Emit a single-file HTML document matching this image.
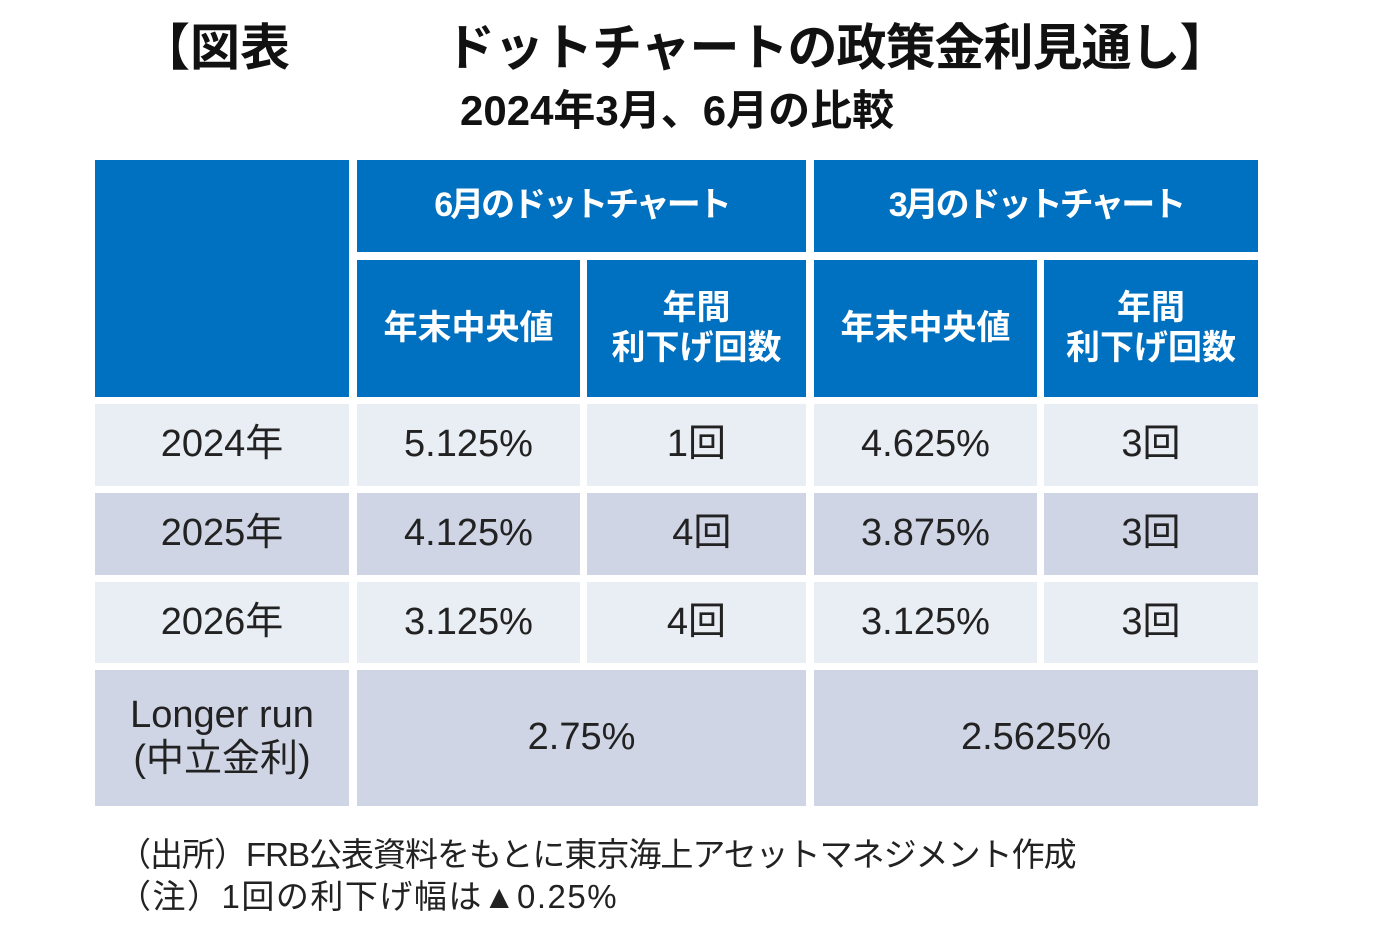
<!DOCTYPE html>
<html><head><meta charset="utf-8"><style>
body{margin:0;width:1396px;height:941px;background:#fff;position:relative;overflow:hidden;font-family:"Liberation Sans","Noto Sans CJK JP",sans-serif;}
.c{position:absolute;display:flex;align-items:center;justify-content:center;text-align:center;color:#222;font-size:38px;line-height:1.15;}
.h{background:#0070c0;color:#fff;font-weight:bold;font-size:34px;}
.k{letter-spacing:-3px;}
.l{background:#e9edf4}.d{background:#cfd5e5}
.t{position:absolute;font-weight:bold;color:#111;white-space:nowrap;}
.n{position:absolute;font-size:33px;color:#222;white-space:nowrap;}
</style></head><body>
<div class="t" style="left:140px;top:8px;font-size:50px;">【図表</div>
<div class="t" style="left:445px;top:8px;font-size:50px;letter-spacing:-1px;">ドットチャートの政策金利見通し】</div>
<div class="t" style="left:460px;top:77px;font-size:42px;">2024年3月、6月の比較</div>

<div class="c h" style="left:95px;top:160px;width:254px;height:237px;"></div>
<div class="c h k" style="left:357px;top:160px;width:449px;height:92px;">6月のドットチャート</div>
<div class="c h k" style="left:814px;top:160px;width:444px;height:92px;">3月のドットチャート</div>
<div class="c h" style="left:357px;top:260px;width:223px;height:137px;">年末中央値</div>
<div class="c h" style="left:587px;top:260px;width:219px;height:137px;">年間<br>利下げ回数</div>
<div class="c h" style="left:814px;top:260px;width:223px;height:137px;">年末中央値</div>
<div class="c h" style="left:1044px;top:260px;width:214px;height:137px;">年間<br>利下げ回数</div>

<div class="c l" style="left:95px;top:404px;width:254px;height:82px;">2024年</div>
<div class="c l" style="left:357px;top:404px;width:223px;height:82px;">5.125%</div>
<div class="c l" style="left:587px;top:404px;width:219px;height:82px;">1回</div>
<div class="c l" style="left:814px;top:404px;width:223px;height:82px;">4.625%</div>
<div class="c l" style="left:1044px;top:404px;width:214px;height:82px;">3回</div>

<div class="c d" style="left:95px;top:493px;width:254px;height:82px;">2025年</div>
<div class="c d" style="left:357px;top:493px;width:223px;height:82px;">4.125%</div>
<div class="c d" style="left:587px;top:493px;width:219px;height:82px;">&nbsp;4回</div>
<div class="c d" style="left:814px;top:493px;width:223px;height:82px;">3.875%</div>
<div class="c d" style="left:1044px;top:493px;width:214px;height:82px;">3回</div>

<div class="c l" style="left:95px;top:582px;width:254px;height:81px;">2026年</div>
<div class="c l" style="left:357px;top:582px;width:223px;height:81px;">3.125%</div>
<div class="c l" style="left:587px;top:582px;width:219px;height:81px;">4回</div>
<div class="c l" style="left:814px;top:582px;width:223px;height:81px;">3.125%</div>
<div class="c l" style="left:1044px;top:582px;width:214px;height:81px;">3回</div>

<div class="c d" style="left:95px;top:670px;width:254px;height:136px;">Longer run<br>(中立金利)</div>
<div class="c d" style="left:357px;top:670px;width:449px;height:136px;">2.75%</div>
<div class="c d" style="left:814px;top:670px;width:444px;height:136px;">2.5625%</div>

<div class="n" style="left:118px;top:828px;letter-spacing:-1px;">（出所）FRB公表資料をもとに東京海上アセットマネジメント作成</div>
<div class="n" style="left:118px;top:870px;letter-spacing:1.5px;">（注）1回の利下げ幅は▲0.25%</div>
</body></html>
